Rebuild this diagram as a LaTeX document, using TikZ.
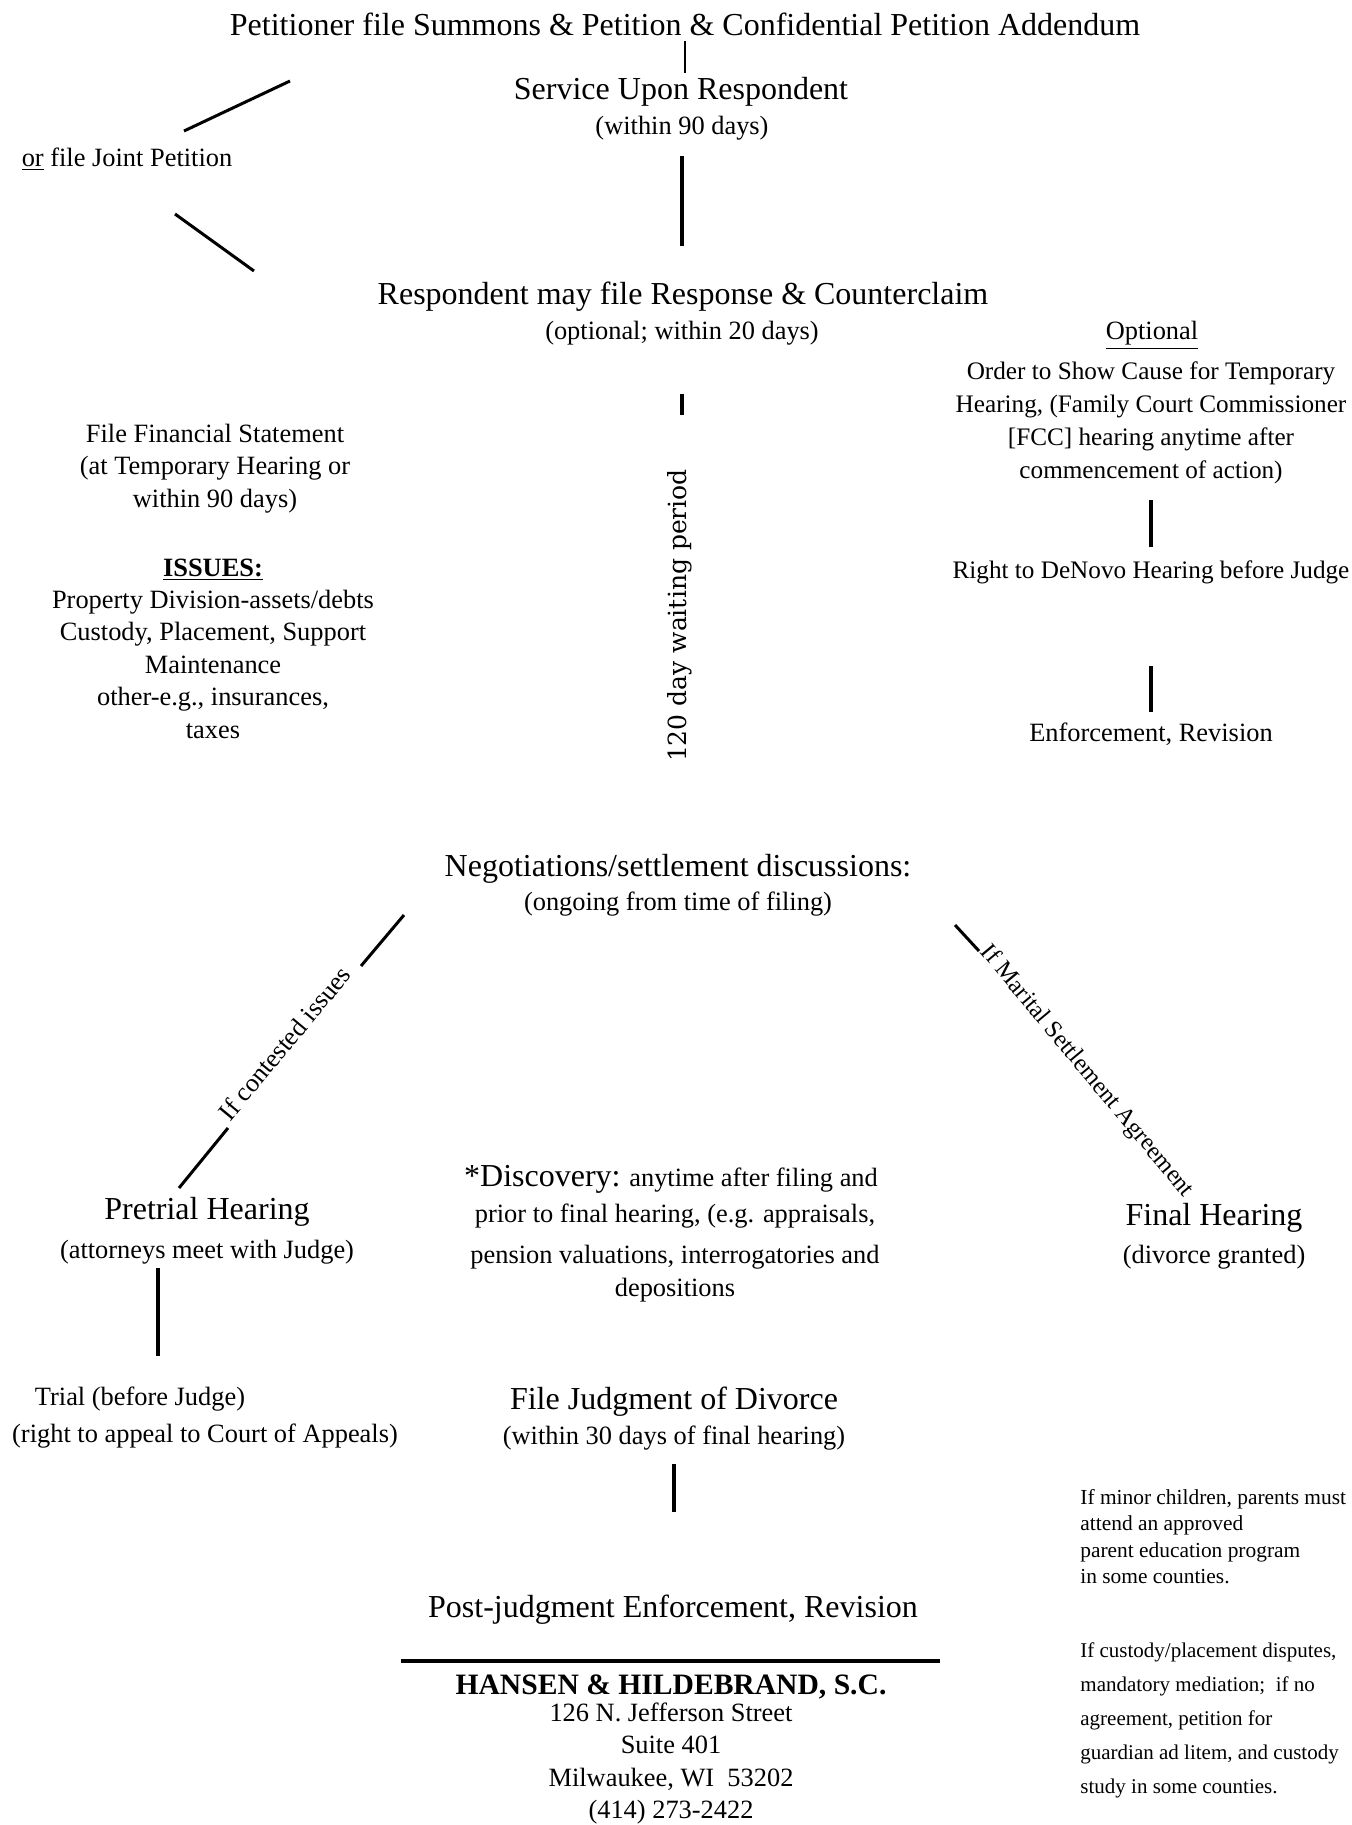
\documentclass[tikz,border=0pt]{standalone}
\usepackage{fontspec}
\setmainfont{Liberation Serif}
\newfontfamily\waitfont{DejaVu Serif}
\begin{document}
\begin{tikzpicture}[x=0.5pt,y=-0.5pt,
  txt/.style={inner sep=0pt, align=center, yshift=-1.75pt},
  big/.style={font=\fontsize{16}{19}\selectfont},
  med/.style={font=\fontsize{13.2}{16.5}\selectfont},
  conn/.style={line width=1.9pt},
  thin/.style={line width=1.1pt},
  diag/.style={line width=1.5pt}]
\fill[white] (0,0) rectangle (1351,1825);
\useasboundingbox (0,0) rectangle (1351,1825);

% main column
\node[txt,big] (title) at (685,20.5) {Petitioner file Summons \& Petition \& Confidential Petition Addendum};
\node[txt,big] (service) at (681,88) {Service Upon Respondent};
\node[txt,med] (within90) at (682,125) {(within 90 days)};
\node[txt,med] (joint) at (127,156) {\underline{or} file Joint Petition};
\node[txt,big] (resp) at (683,293) {Respondent may file Response \& Counterclaim};
\node[txt,med] (opt20) at (682,330) {(optional; within 20 days)};
\node[txt, font=\waitfont\fontsize{12.5}{15}\selectfont, rotate=90] (wait) at (680,612) {120 day waiting period};

% left block
\node[txt, font=\fontsize{13.2}{16.25}\selectfont] (fin) at (215,465) {File Financial Statement\\(at Temporary Hearing or\\within 90 days)};
\node[txt, font=\fontsize{13.2}{16.2}\selectfont] (issues) at (213,645) {\textbf{\underline{ISSUES:}}\\Property Division-assets/debts\\Custody, Placement, Support\\Maintenance\\other-e.g., insurances,\\taxes};

% right block
\node[txt,med] (optional) at (1152,332) {\underline{Optional}};
\node[txt, font=\fontsize{12.6}{16.5}\selectfont] (osc) at (1151,419.5) {Order to Show Cause for Temporary\\Hearing, (Family Court Commissioner\\{}[FCC] hearing anytime after\\commencement of action)};
\node[txt, font=\fontsize{12.6}{16.5}\selectfont] (denovo) at (1151,569) {Right to DeNovo Hearing before Judge};
\node[txt,med] (enforce) at (1151,731) {Enforcement, Revision};

% negotiations
\node[txt,big] (nego) at (678,865) {Negotiations/settlement discussions:};
\node[txt,med] (ongoing) at (678,901) {(ongoing from time of filing)};

\node[txt,big] (pretrial) at (207,1208) {Pretrial Hearing};
\node[txt,med] (attorneys) at (207,1249) {(attorneys meet with Judge)};
\node[txt,med] (trial) at (140,1396) {Trial (before Judge)};
\node[txt,med] (appeal) at (205,1433) {(right to appeal to Court of Appeals)};

\node[txt,med] (disc1) at (671,1176) {{\fontsize{16}{19}\selectfont *Discovery:} anytime after filing and};
\node[txt,med] (disc2) at (675,1213) {prior to final hearing, (e.g. appraisals,};
\node[txt,med] (disc3) at (675,1254) {pension valuations, interrogatories and};
\node[txt,med] (disc4) at (675,1287) {depositions};

\node[txt,big] (final) at (1214,1214) {Final Hearing};
\node[txt,med] (granted) at (1214,1254) {(divorce granted)};

\node[txt,big] (judg) at (674,1398) {File Judgment of Divorce};
\node[txt,med] (within30) at (674,1435) {(within 30 days of final hearing)};
\node[txt,big] (post) at (673,1606) {Post-judgment Enforcement, Revision};

\node[txt, font=\bfseries\fontsize{14.8}{17}\selectfont] (firm) at (671,1683) {HANSEN \& HILDEBRAND, S.C.};
\node[txt, font=\fontsize{13.2}{16.1}\selectfont] (addr) at (671,1760) {126 N. Jefferson Street\\Suite 401\\Milwaukee, WI\ \ 53202\\(414) 273-2422};

\node[txt, align=left, anchor=west, font=\fontsize{10.7}{13.2}\selectfont] (note1) at (1080,1533) {If minor children, parents must\\attend an approved\\parent education program\\in some counties.};
\node[txt, align=left, anchor=west, font=\fontsize{10.5}{17}\selectfont] (note2) at (1080,1717) {If custody/placement disputes,\\mandatory mediation;\ \ if no\\agreement, petition for\\guardian ad litem, and custody\\study in some counties.};

% diagonal labels
\node[txt, font=\fontsize{13}{15}\selectfont, rotate=50.3] (lcont) at (284.5,1039.5) {If contested issues};
\node[txt, font=\fontsize{12.2}{15}\selectfont, rotate=-50.2] (lmar) at (1086.5,1068) {If Marital Settlement Agreement};

% coordinates for free connector ends
\coordinate (ja1) at (184,131); \coordinate (ja2) at (290,81);
\coordinate (jb1) at (175,214); \coordinate (jb2) at (254,271);
\coordinate (ca1) at (404,915); \coordinate (ca2) at (361,966);
\coordinate (cb1) at (228,1128); \coordinate (cb2) at (179,1188);
\coordinate (ma1) at (955,925); \coordinate (ma2) at (979,951);
\coordinate (pt1) at (158,1268); \coordinate (pt2) at (158,1356);
\coordinate (r1) at (401,1661); \coordinate (r2) at (940,1661);

% connectors
\draw[thin, shorten <=2.8pt, shorten >=1.75pt] (title.south) -- (title.south |- service.north);
\draw[conn, shorten <=7.45pt, shorten >=17.55pt] (within90.south) -- (within90.south |- resp.north);
\draw[conn, shorten <=23.95pt, shorten >=26.75pt] (opt20.south) -- (opt20.south |- wait.east);
\draw[conn, shorten <=7.95pt, shorten >=6.95pt] (osc.south) -- (denovo.north);
\draw[conn, shorten <=40.95pt, shorten >=5.45pt] (denovo.south) -- (enforce.north);
\draw[conn, shorten <=6.45pt, shorten >=41.05pt] (within30.south) -- (within30.south |- post.north);
\draw[conn] (pt1) -- (pt2);
\draw[diag] (ja1) -- (ja2);
\draw[diag] (jb1) -- (jb2);
\draw[diag] (ca1) -- (ca2);
\draw[diag] (cb1) -- (cb2);
\draw[diag] (ma1) -- (ma2);
\draw[line width=2.3pt] (r1) -- (r2);
\end{tikzpicture}
\end{document}
